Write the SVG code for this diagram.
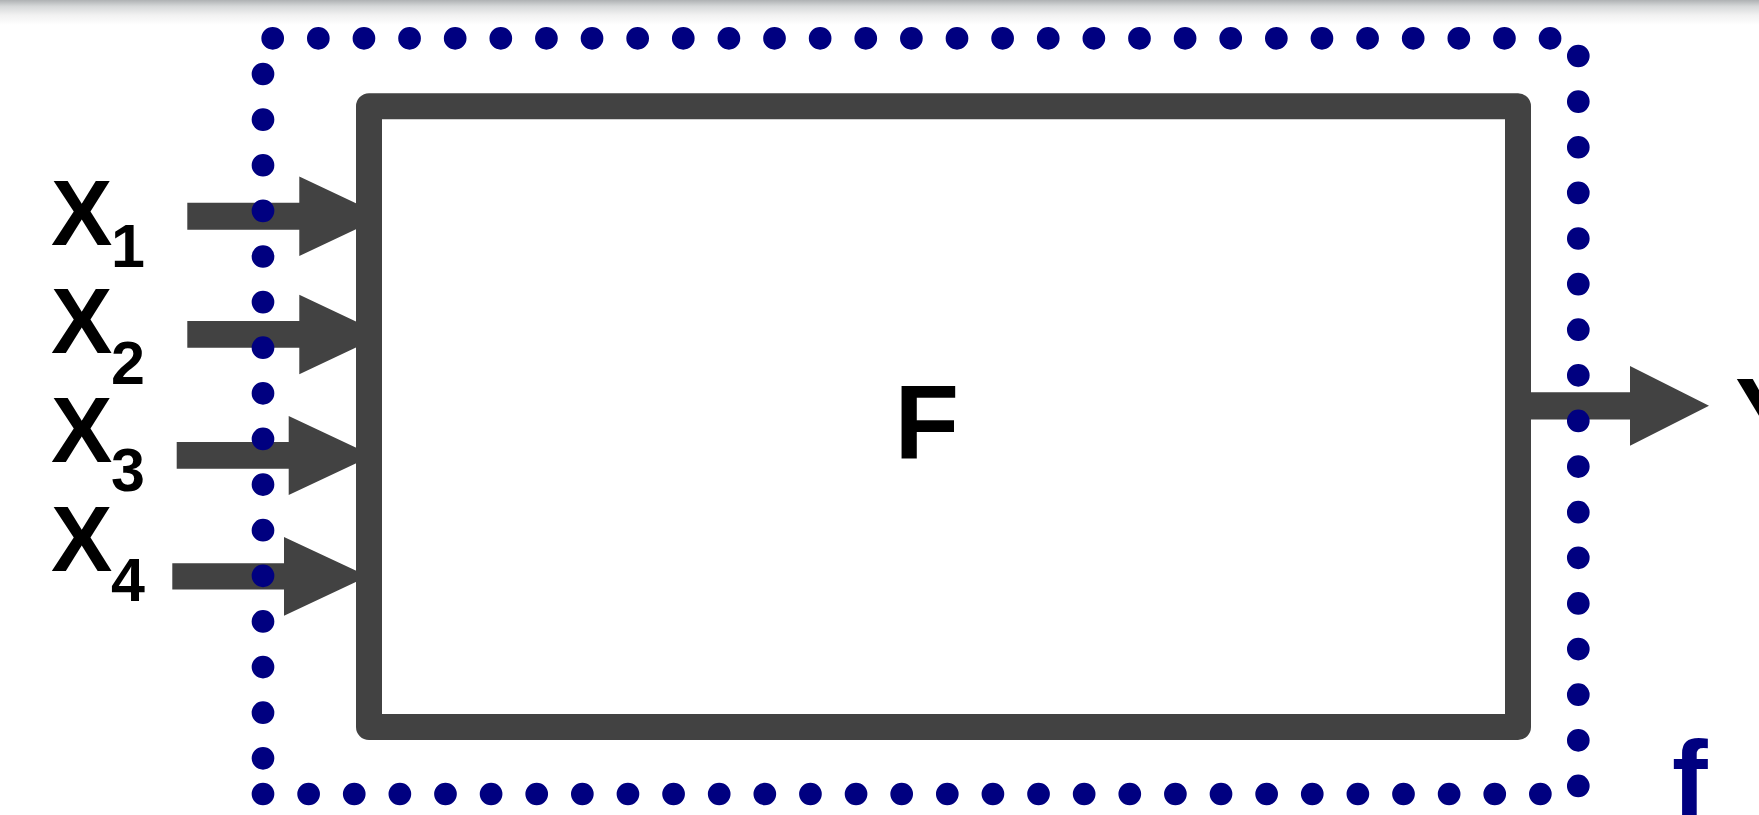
<svg xmlns="http://www.w3.org/2000/svg" width="1759" height="815" viewBox="0 0 1759 815">
<defs>
<linearGradient id="topShade" x1="0" y1="0" x2="0" y2="1">
<stop offset="0" stop-color="#aeb1b3"/>
<stop offset="0.25" stop-color="#d6d8d9"/>
<stop offset="0.6" stop-color="#f1f1f1"/>
<stop offset="1" stop-color="#ffffff"/>
</linearGradient>
<style>
.arrow{fill:#424242;}
.box{fill:#ffffff;stroke:#424242;stroke-width:26;stroke-linejoin:round;}
.dots{fill:none;stroke:#000080;stroke-width:22.7;stroke-linecap:round;stroke-dasharray:0 45.62;}
.lbl{font-family:"Liberation Sans",Arial,sans-serif;font-weight:bold;fill:#000000;}
.big{font-size:92px;}
.sub{font-size:61px;}
</style>
</defs>
<rect x="0" y="0" width="1759" height="815" fill="#ffffff"/>
<rect x="0" y="0" width="1759" height="25" fill="url(#topShade)"/>

<g id="connectors">
<polygon class="arrow" points="187.3,202.8 299.3,202.8 299.3,176.6 383.5,216.3 299.3,256 299.3,229.8 187.3,229.8"/>
<polygon class="arrow" points="187.3,321 299.3,321 299.3,294.7 383.5,334.4 299.3,374.2 299.3,347.8 187.3,347.8"/>
<polygon class="arrow" points="176.7,442 288.7,442 288.7,416 372.7,455.4 288.7,495 288.7,468.8 176.7,468.8"/>
<polygon class="arrow" points="172.3,563.2 284,563.2 284,537 368,576.3 284,615.7 284,589.4 172.3,589.4"/>
<polygon class="arrow" points="1518,392.2 1630,392.2 1630,366 1709,405.8 1630,445.7 1630,419.4 1518,419.4"/>
</g>

<g id="node-F">
<rect class="box" x="369" y="106.3" width="1149" height="620.7"/>
<text class="lbl" x="894.6" y="459" font-size="105.7">F</text>
</g>

<g id="boundary-f">
<line class="dots" x1="272.7" y1="38.3" x2="1551" y2="38.3"/>
<line class="dots" x1="263" y1="74" x2="263" y2="759.5"/>
<line class="dots" x1="263" y1="794" x2="1541.5" y2="794"/>
<line class="dots" x1="1578.3" y1="56" x2="1578.3" y2="787"/>
<text x="1672" y="815.5" font-family="Liberation Sans, Arial, sans-serif" font-weight="bold" font-size="107" fill="#000080">f</text>
</g>

<g id="label-x1"><text class="lbl big" x="51" y="245">X</text><text class="lbl sub" x="111" y="266.7">1</text></g>
<g id="label-x2"><text class="lbl big" x="51" y="353.3">X</text><text class="lbl sub" x="111" y="384">2</text></g>
<g id="label-x3"><text class="lbl big" x="51" y="461.7">X</text><text class="lbl sub" x="111" y="490.7">3</text></g>
<g id="label-x4"><text class="lbl big" x="51" y="570.7">X</text><text class="lbl sub" x="111" y="600.7">4</text></g>
<g id="label-y"><text class="lbl" x="1735" y="452.4" font-size="105.7">Y</text></g>
</svg>
